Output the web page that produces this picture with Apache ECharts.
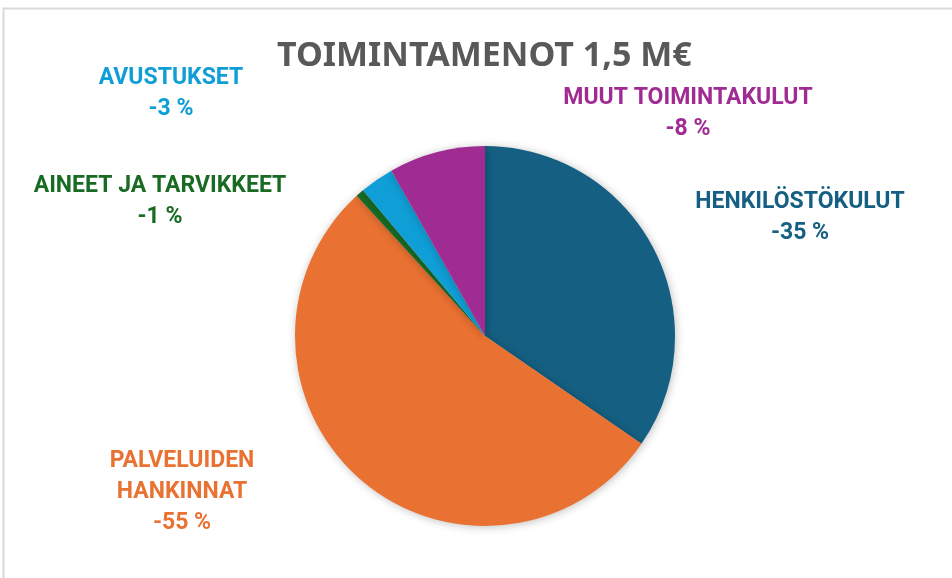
<!DOCTYPE html>
<html>
<head>
<meta charset="utf-8">
<script src="https://cdn.jsdelivr.net/npm/echarts@6/dist/echarts.min.js"></script>
<style>
  html, body { margin: 0; padding: 0; background: #fff; }
  #chart { width: 952px; height: 578px; }
</style>
</head>
<body>
<div id="chart"></div>
<script>
// slices clockwise from 12 o'clock
const categories = ['HENKILÖSTÖKULUT', 'PALVELUIDEN\nHANKINNAT', 'AINEET JA TARVIKKEET', 'AVUSTUKSET', 'MUUT TOIMINTAKULUT']
const shares = [34.6, 53.6, 0.7, 2.9, 8.2]      // slice size, % of total
const changes = [-35, -55, -1, -3, -8]           // label value, %
const colors = ['#156082', '#e97132', '#196b24', '#0f9ed5', '#a02b93']

// label anchor (centre) for each slice
const labelPos = [[800, 218], [182, 492], [160, 202], [171, 94], [688, 114]]

const chart = echarts.init(document.getElementById('chart'))
chart.setOption({
  backgroundColor: '#fff',
  animation: false,
  title: {
    text: 'TOIMINTAMENOT 1,5 M€',
    left: 272,
    top: 34,
    textStyle: {
      fontFamily: 'Noto Sans',
      fontSize: 34,
      fontWeight: 'bold',
      color: '#595959'
    }
  },
  graphic: [{
    type: 'rect',
    shape: { x: 3.5, y: 8.5, width: 960, height: 600 },
    style: { fill: 'none', stroke: '#d9d9d9', lineWidth: 2 },
    silent: true
  }],
  series: [{
    type: 'pie',
    center: [485, 336],
    radius: 190,
    startAngle: 90,
    clockwise: true,
    data: categories.map((name, i) => ({
      name: name,
      value: shares[i],
      change: changes[i],
      itemStyle: { color: colors[i] },
      label: { color: colors[i] }
    })),
    itemStyle: {
      shadowBlur: 8,
      shadowColor: 'rgba(0,0,0,0.25)',
      shadowOffsetX: 1,
      shadowOffsetY: 1
    },
    labelLine: { show: false },
    label: {
      show: true,
      position: 'outside',
      overflow: 'none',
      formatter: p => p.name + '\n' + p.data.change + ' %',
      fontFamily: 'Roboto',
      fontSize: 23,
      fontWeight: 'bold',
      lineHeight: 31,
      align: 'center'
    },
    labelLayout: p => ({
      x: labelPos[p.dataIndex][0],
      y: labelPos[p.dataIndex][1],
      align: 'center',
      verticalAlign: 'middle',
      moveOverlap: false,
      hideOverlap: false
    })
  }]
})
</script>
</body>
</html>
